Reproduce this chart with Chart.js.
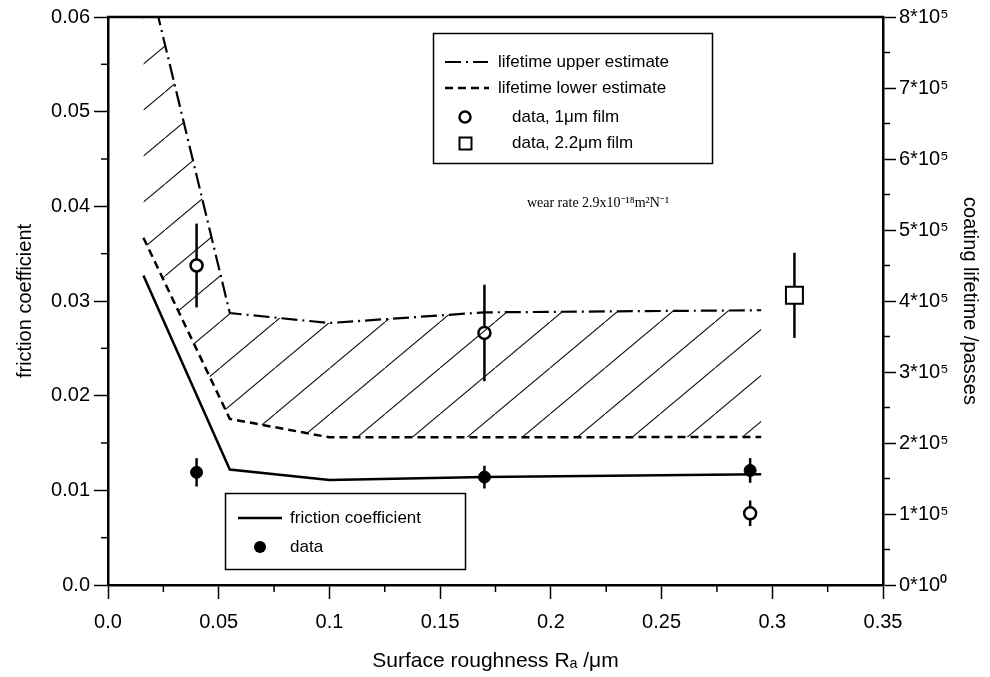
<!DOCTYPE html>
<html>
<head>
<meta charset="utf-8">
<script src="https://cdn.jsdelivr.net/npm/chart.js@4.4.1/dist/chart.umd.min.js"></script>
<style>
html, body { margin: 0; padding: 0; background: #fff; }
#wrap { width: 990px; height: 677px; }
</style>
</head>
<body>
<div id="wrap"><canvas id="chart" width="990" height="677"></canvas></div>
<script>
// model curves (same x for all three so the hatch fill lines up)
const lineX = [0.016, 0.055, 0.1, 0.17, 0.295];
const frictionLine = [0.0327, 0.0122, 0.0111, 0.0114, 0.0117];
const upperLife = [8.87e5, 3.83e5, 3.69e5, 3.84e5, 3.87e5];
const lowerLife = [4.89e5, 2.34e5, 2.08e5, 2.08e5, 2.085e5];

// measured points
const dataX = [0.04, 0.17, 0.29];
const frictionData = [0.0119, 0.0114, 0.0121];
const frictionErr = [0.0015, 0.0012, 0.0013];
const film1Life = [4.5e5, 3.55e5, 1.01e5];
const film1Err = [0.59e5, 0.68e5, 0.18e5];
const film22X = [0.31];
const film22Life = [4.08e5];
const film22Err = [0.6e5];

// tick labels
const xTickLabels = ['0.0', '0.05', '0.1', '0.15', '0.2', '0.25', '0.3', '0.35'];
const yTickLabels = ['0.0', '0.01', '0.02', '0.03', '0.04', '0.05', '0.06'];
const y1TickLabels = ['0*10\u2070', '1*10\u2075', '2*10\u2075', '3*10\u2075', '4*10\u2075',
                      '5*10\u2075', '6*10\u2075', '7*10\u2075', '8*10\u2075'];

const SANS = '"Liberation Sans", Arial, Helvetica, sans-serif';
const SERIF = '"Liberation Serif", "Times New Roman", serif';

function pts(xs, ys) {
    return xs.map((x, i) => ({ x: x, y: ys[i] }));
}

// diagonal hatch used between the two lifetime estimates
function hatchPattern() {
    const w = 55, h = 46;
    const c = document.createElement('canvas');
    c.width = w;
    c.height = h;
    const g = c.getContext('2d');
    g.strokeStyle = '#111';
    g.lineWidth = 1.1;
    g.beginPath();
    g.moveTo(-w, 2 * h);
    g.lineTo(2 * w, -h);
    g.stroke();
    return g.createPattern(c, 'repeat');
}

const errorBars = {
    id: 'errorBars',
    beforeDatasetsDraw(chart) {
        const ctx = chart.ctx;
        chart.data.datasets.forEach(ds => {
            if (!ds.errors) return;
            const ys = chart.scales[ds.yAxisID];
            const xs = chart.scales.x;
            ctx.save();
            ctx.strokeStyle = '#000';
            ctx.lineWidth = 2.5;
            ds.data.forEach((p, j) => {
                const px = xs.getPixelForValue(p.x);
                ctx.beginPath();
                ctx.moveTo(px, ys.getPixelForValue(p.y - ds.errors[j]));
                ctx.lineTo(px, ys.getPixelForValue(p.y + ds.errors[j]));
                ctx.stroke();
            });
            ctx.restore();
        });
    }
};

const frameAndMinor = {
    id: 'frameAndMinor',
    afterDraw(chart) {
        const { ctx, chartArea: a, scales } = chart;
        const seg = (x1, y1, x2, y2) => {
            ctx.beginPath(); ctx.moveTo(x1, y1); ctx.lineTo(x2, y2); ctx.stroke();
        };
        ctx.save();
        ctx.strokeStyle = '#000';
        ctx.lineWidth = 1.5;
        for (let v = 0.025; v < 0.35; v += 0.05) {
            const p = scales.x.getPixelForValue(v);
            seg(p, a.bottom, p, a.bottom + 7);
        }
        for (let v = 0.005; v < 0.06; v += 0.01) {
            const p = scales.y.getPixelForValue(v);
            seg(a.left - 7, p, a.left, p);
        }
        for (let v = 0.5e5; v < 8e5; v += 1e5) {
            const p = scales.y1.getPixelForValue(v);
            seg(a.right, p, a.right + 7, p);
        }
        ctx.lineWidth = 2.5;
        seg(a.left - 1, a.top, a.right + 1, a.top);
        ctx.restore();
    }
};

const boxLegends = {
    id: 'boxLegends',
    afterDraw(chart) {
        const ctx = chart.ctx;
        const seg = (x1, y1, x2, y2) => {
            ctx.beginPath(); ctx.moveTo(x1, y1); ctx.lineTo(x2, y2); ctx.stroke();
        };
        ctx.save();
        ctx.fillStyle = '#fff';
        ctx.fillRect(434, 34, 278, 129);
        ctx.fillRect(226, 494, 239, 75);
        ctx.strokeStyle = '#000';
        ctx.lineWidth = 1.5;
        ctx.strokeRect(433.5, 33.5, 279, 130);
        ctx.strokeRect(225.5, 493.5, 240, 76);

        ctx.fillStyle = '#000';
        ctx.font = '17px ' + SANS;
        ctx.textBaseline = 'middle';
        ctx.textAlign = 'left';

        // upper legend
        ctx.lineWidth = 2.2;
        ctx.setLineDash([16, 5, 2, 5]);
        seg(445, 62, 488, 62);
        ctx.setLineDash([8, 5]);
        ctx.lineWidth = 2.5;
        seg(445, 88, 489, 88);
        ctx.setLineDash([]);
        ctx.fillText('lifetime upper estimate', 498, 62);
        ctx.fillText('lifetime lower estimate', 498, 88);

        ctx.lineWidth = 2.5;
        ctx.beginPath();
        ctx.arc(465, 117, 5.5, 0, Math.PI * 2);
        ctx.stroke();
        ctx.lineWidth = 2;
        ctx.strokeRect(459.5, 137.5, 12, 12);
        ctx.fillText('data, 1\u03bcm film', 512, 117);
        ctx.fillText('data, 2.2\u03bcm film', 512, 143);

        // lower legend
        ctx.lineWidth = 2.5;
        seg(238, 518, 282, 518);
        ctx.beginPath();
        ctx.arc(260, 547, 6, 0, Math.PI * 2);
        ctx.fill();
        ctx.fillText('friction coefficient', 290, 518);
        ctx.fillText('data', 290, 547);

        // annotation
        ctx.font = '14px ' + SERIF;
        ctx.textAlign = 'center';
        ctx.fillText('wear rate 2.9x10\u207b\u00b9\u2078m\u00b2N\u207b\u00b9', 598, 203);
        ctx.restore();
    }
};

const ctx = document.getElementById('chart').getContext('2d');
const hatch = hatchPattern();

const axisFont = { family: SANS, size: 20 };
const titleFont = { family: SANS, size: 20 };

new Chart(ctx, {
    type: 'scatter',
    data: {
        datasets: [
            {
                label: 'friction coefficient',
                data: pts(lineX, frictionLine),
                yAxisID: 'y',
                showLine: true,
                borderColor: '#000',
                borderWidth: 2.5,
                pointRadius: 0,
                fill: false
            },
            {
                label: 'data',
                data: pts(dataX, frictionData),
                errors: frictionErr,
                yAxisID: 'y',
                pointRadius: 6,
                pointBackgroundColor: '#000',
                pointBorderColor: '#000',
                pointBorderWidth: 1
            },
            {
                label: 'lifetime upper estimate',
                data: pts(lineX, upperLife),
                yAxisID: 'y1',
                showLine: true,
                borderColor: '#000',
                borderWidth: 2.2,
                borderDash: [16, 5, 2, 5],
                pointRadius: 0,
                backgroundColor: hatch,
                fill: '+1'
            },
            {
                label: 'lifetime lower estimate',
                data: pts(lineX, lowerLife),
                yAxisID: 'y1',
                showLine: true,
                borderColor: '#000',
                borderWidth: 2.5,
                borderDash: [8, 5],
                pointRadius: 0,
                fill: false
            },
            {
                label: 'data, 1\u03bcm film',
                data: pts(dataX, film1Life),
                errors: film1Err,
                yAxisID: 'y1',
                pointRadius: 6,
                pointBackgroundColor: '#fff',
                pointBorderColor: '#000',
                pointBorderWidth: 2.5
            },
            {
                label: 'data, 2.2\u03bcm film',
                data: pts(film22X, film22Life),
                errors: film22Err,
                yAxisID: 'y1',
                pointStyle: 'rect',
                pointRadius: 12,
                pointBackgroundColor: '#fff',
                pointBorderColor: '#000',
                pointBorderWidth: 2
            }
        ]
    },
    options: {
        responsive: false,
        animation: false,
        events: [],
        layout: { padding: { top: 17, left: 0, right: 0, bottom: 0 } },
        plugins: {
            legend: { display: false },
            tooltip: { enabled: false }
        },
        scales: {
            x: {
                type: 'linear',
                min: 0,
                max: 0.35,
                afterFit: s => { s.height = 92; },
                border: { width: 2.5, color: '#000' },
                grid: { drawOnChartArea: false, tickLength: 14, tickWidth: 1.5, tickColor: '#000' },
                ticks: {
                    stepSize: 0.05,
                    color: '#000',
                    font: axisFont,
                    padding: 11,
                    maxRotation: 0,
                    callback: (v, i) => xTickLabels[i]
                },
                title: {
                    display: true,
                    text: 'Surface roughness R\u2090 /\u03bcm',
                    color: '#000',
                    font: { family: SANS, size: 21 },
                    padding: { top: 0, bottom: 3 }
                }
            },
            y: {
                position: 'left',
                min: 0,
                max: 0.06,
                afterFit: s => { s.width = 108; },
                border: { width: 2.5, color: '#000' },
                grid: { drawOnChartArea: false, tickLength: 14, tickWidth: 1.5, tickColor: '#000' },
                ticks: {
                    stepSize: 0.01,
                    color: '#000',
                    font: axisFont,
                    padding: 4,
                    callback: (v, i) => yTickLabels[i]
                },
                title: {
                    display: true,
                    text: 'friction coefficient',
                    color: '#000',
                    font: titleFont,
                    padding: { top: 13, bottom: 0 }
                }
            },
            y1: {
                position: 'right',
                min: 0,
                max: 8e5,
                afterFit: s => { s.width = 107; },
                border: { width: 2.5, color: '#000' },
                grid: { drawOnChartArea: false, tickLength: 13, tickWidth: 1.5, tickColor: '#000' },
                ticks: {
                    stepSize: 1e5,
                    color: '#000',
                    font: axisFont,
                    padding: 3,
                    callback: (v, i) => y1TickLabels[i]
                },
                title: {
                    display: true,
                    text: 'coating lifetime /passes',
                    color: '#000',
                    font: titleFont,
                    padding: { top: 8, bottom: 0 }
                }
            }
        }
    },
    plugins: [errorBars, frameAndMinor, boxLegends]
});
</script>
</body>
</html>
